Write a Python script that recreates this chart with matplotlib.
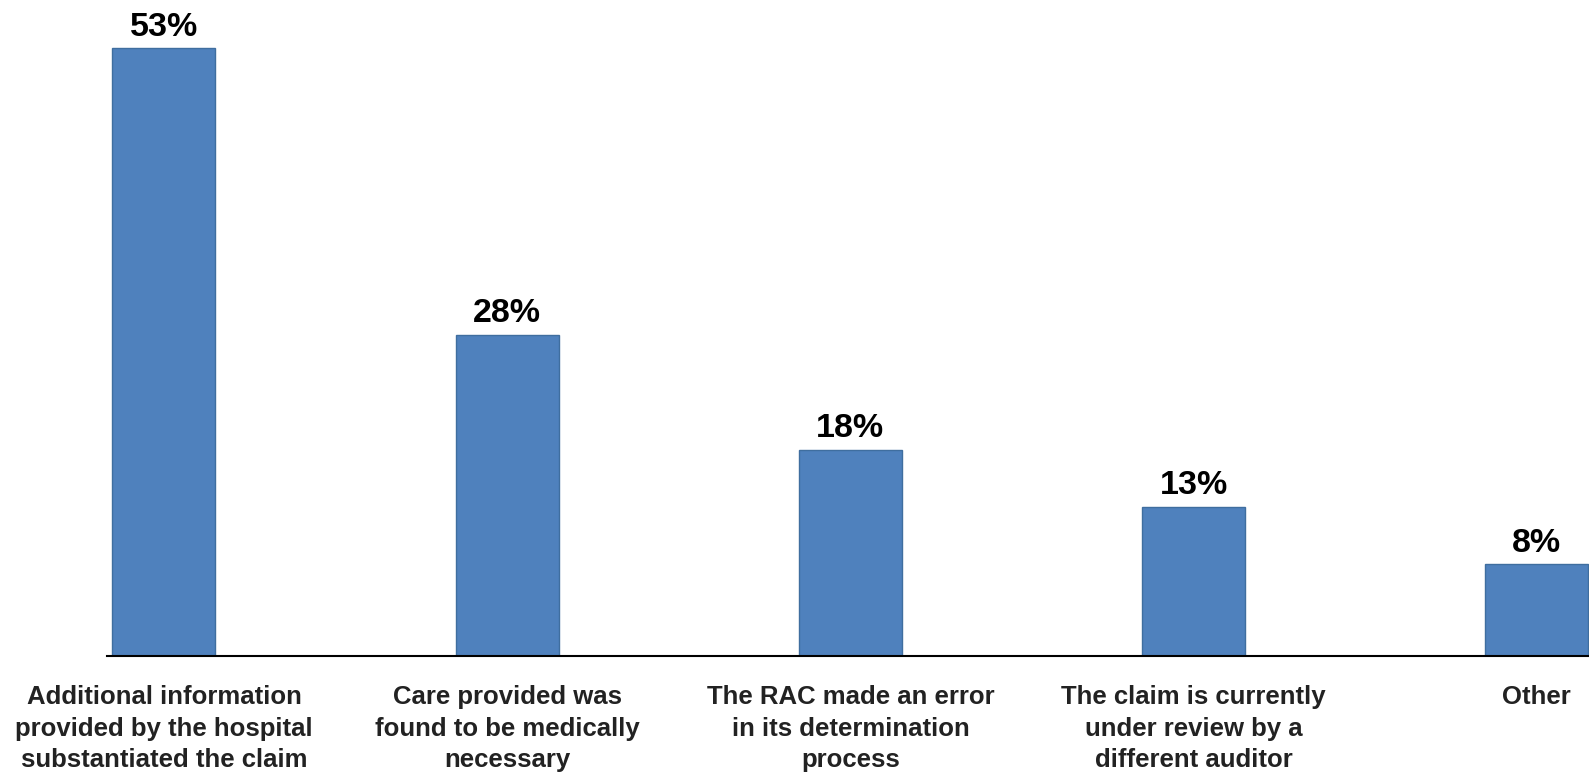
import matplotlib
matplotlib.use("Agg")
import matplotlib.pyplot as plt

categories = [
    "Additional information\nprovided by the hospital\nsubstantiated the claim",
    "Care provided was\nfound to be medically\nnecessary",
    "The RAC made an error\nin its determination\nprocess",
    "The claim is currently\nunder review by a\ndifferent auditor",
    "Other",
]
values = [53, 28, 18, 13, 8]
value_labels = ["53%", "28%", "18%", "13%", "8%"]

plt.rcParams["font.family"] = ["Liberation Sans", "DejaVu Sans"]

W, H = 1589, 772
fig = plt.figure(figsize=(W / 100, H / 100), dpi=100)
ax = fig.add_axes([107 / W, 116 / H, (W - 107) / W, 656 / H])

x = list(range(len(values)))
bars = ax.bar(x, values, width=0.30, color="#4F81BD", edgecolor="#3F6E9F",
              linewidth=1.0, zorder=2)

ax.set_xlim(-0.166, 4.152)
ax.set_ylim(0, 57.2)

ax.bar_label(bars, labels=value_labels, padding=4, fontsize=24.5,
             fontweight="bold", color="black")

for s in ["top", "right", "left"]:
    ax.spines[s].set_visible(False)
ax.spines["bottom"].set_linewidth(1.5)
ax.spines["bottom"].set_color("#000000")
ax.set_yticks([])
ax.set_xticks(x)
ax.set_xticklabels(categories, fontsize=18.5, fontweight="bold",
                   color="#222222", linespacing=1.4)
ax.tick_params(axis="x", length=0, pad=21)

fig.savefig("out.png", dpi=100, facecolor="white")
